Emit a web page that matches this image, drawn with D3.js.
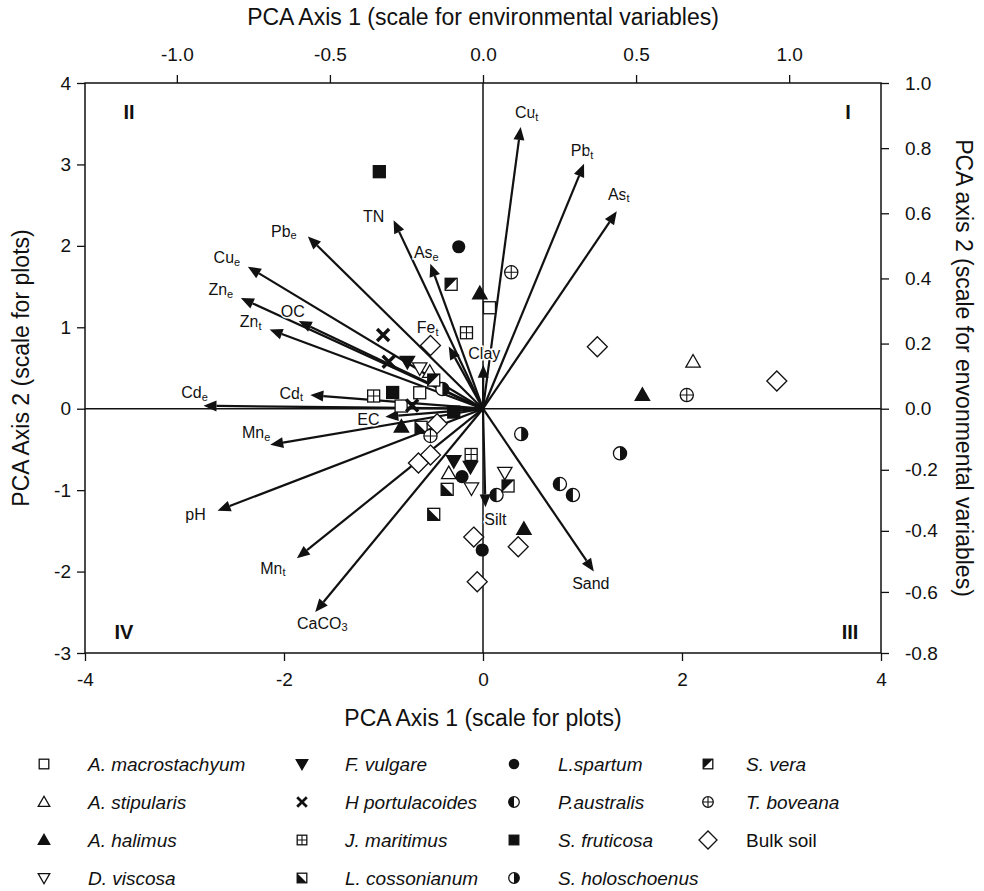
<!DOCTYPE html>
<html>
<head>
<meta charset="utf-8">
<script src="https://cdn.jsdelivr.net/npm/d3@7"></script>
<style>
  body { margin: 0; background: #fff; }
  svg text { font-family: "Liberation Sans", Arial, Helvetica, sans-serif; fill: #111; }
</style>
</head>
<body>
<svg id="chart" width="984" height="891"></svg>
<script>
// ---- data -------------------------------------------------------------
const X_TICKS = [-4, -2, 0, 2, 4];
const Y_TICKS = [-3, -2, -1, 0, 1, 2, 3, 4];
const XE_TICKS = [-1.0, -0.5, 0.0, 0.5, 1.0];
const YE_TICKS = [-0.8, -0.6, -0.4, -0.2, 0.0, 0.2, 0.4, 0.6, 0.8, 1.0];

// environmental variables (scale for environmental variables)
const envNames = ["Cu", "Pb", "As", "TN", "Pb", "Cu", "Zn", "OC", "Zn", "As", "Fe", "Clay",
                  "Cd", "Cd", "EC", "Mn", "pH", "Mn", "CaCO", "Silt", "Sand"];
const envSubs  = ["t", "t", "t", "", "e", "e", "e", "", "t", "e", "t", "",
                  "e", "t", "", "e", "", "t", "3", "", ""];
const envX = [0.123, 0.330, 0.437, -0.292, -0.572, -0.768, -0.791, -0.602, -0.697, -0.172, -0.112, 0.001,
              -0.913, -0.564, -0.319, -0.695, -0.867, -0.608, -0.548, 0.008, 0.362];
const envY = [0.865, 0.752, 0.606, 0.579, 0.529, 0.436, 0.340, 0.269, 0.243, 0.445, 0.191, 0.135,
              0.009, 0.042, -0.026, -0.118, -0.334, -0.490, -0.666, -0.323, -0.533];

// plots (scale for plots)
const speciesNames = ["A. macrostachyum", "A. stipularis", "A. halimus", "D. viscosa",
                      "F. vulgare", "H portulacoides", "J. maritimus", "L. cossonianum",
                      "L.spartum", "P.australis", "S. fruticosa", "S. holoschoenus",
                      "S. vera", "T. boveana", "Bulk soil"];
const pointSpecies = [0, 0, 0, 1, 1, 1, 2, 2, 2, 2, 3, 3, 3, 4, 4, 4, 5, 5, 5, 6, 6, 6,
                      7, 7, 7, 8, 8, 8, 9, 9, 9, 10, 10, 10, 11, 11, 11, 12, 12, 12, 13, 13, 13,
                      14, 14, 14, 14, 14, 14, 14, 14, 14];
const pointX = [0.065, -0.636, -0.823,  -0.535, 2.111, -0.344,  -0.032, 1.602, -0.820, 0.411,
                -0.636, 0.219, -0.116,  -0.760, -0.294, -0.126,  -1.004, -0.948, -0.712,
                -0.166, -1.099, -0.119,  -0.622, -0.360, -0.495,  -0.244, -0.211, -0.008,
                0.773, 0.904, 0.136,  -1.042, -0.908, -0.294,  1.377, 0.384, -0.408,
                -0.320, 0.252, -0.495,  0.284, 2.048, -0.528,
                -0.528, 1.149, 2.953, -0.461, -0.528, -0.649, -0.093, 0.354, -0.058];
const pointY = [1.240, 0.196, 0.033,  0.451, 0.577, -0.793,  1.417, 0.168, -0.221, -1.477,
                0.496, -0.786, -0.978,  0.577, -0.642, -0.712,  0.905, 0.577, 0.039,
                0.933, 0.156, -0.562,  -0.228, -0.990, -1.297,  1.989, -0.833, -1.735,
                -0.925, -1.060, -1.060,  2.911, 0.199, -0.041,  -0.548, -0.311, 0.242,
                1.528, -0.949, 0.352,  1.675, 0.168, -0.335,
                0.776, 0.761, 0.340, -0.184, -0.569, -0.667, -1.576, -1.695, -2.125];

// ---- styles / layout --------------------------------------------------
const speciesSymbol = ["squareOpen", "triUpOpen", "triUpFill", "triDownOpen",
                       "triDownFill", "cross", "squarePlus", "squareHalfLow",
                       "circleFill", "circleHalfLeft", "squareFill", "circleHalfRight",
                       "squareHalfUp", "circlePlus", "diamond"];
// label centre relative to the arrow tip, in pixels
const labelNudge = [[6, -14], [-2, -13], [2, -17], [-20, -4], [-24, -5], [-21, -9], [-20, -8],
                    [-6, -10], [-19, -8], [-4, -11], [-21, -19], [1, -11], [-9, -13], [-19, -2],
                    [-17, 3], [-14, -12], [-22, 4], [-24, 10], [7, 11], [10, 12], [-3, 12]];

const margin = {left: 85, right: 881, top: 83, bottom: 653};
const INK = "#111";
const HEAD_LEN = 13, HEAD_W = 5.5;

const svg = d3.select("#chart");

const x = d3.scaleLinear().domain([-4, 4]).range([margin.left, margin.right]);
const y = d3.scaleLinear().domain([-3, 4]).range([margin.bottom, margin.top]);
const xe = d3.scaleLinear().domain([-1.3, 1.3]).range([margin.left, margin.right]);
const ye = d3.scaleLinear().domain([-0.8, 0, 1.0]).range([margin.bottom, y(0), margin.top]);

// plain hyphen for negative numbers, as in the original figure
const hyphen = function(fmt) {
    const f = d3.format(fmt);
    return function(d) { return f(d).replace("\u2212", "-"); };
};

// ---- axes -------------------------------------------------------------
function styleAxis(g) {
    g.select(".domain").remove();
    g.selectAll(".tick line").attr("stroke", INK).attr("stroke-width", 1.3);
    g.selectAll(".tick text").attr("font-size", 19).attr("fill", INK)
        .attr("font-family", "Liberation Sans, Arial, sans-serif");
}

svg.append("g").attr("transform", "translate(0," + margin.bottom + ")")
    .call(d3.axisBottom(x).tickValues(X_TICKS).tickSize(8).tickPadding(12).tickFormat(hyphen("d")))
    .call(styleAxis);

svg.append("g").attr("transform", "translate(" + margin.left + ",0)")
    .call(d3.axisLeft(y).tickValues(Y_TICKS).tickSize(8).tickPadding(6).tickFormat(hyphen("d")))
    .call(styleAxis);

svg.append("g").attr("transform", "translate(0," + margin.top + ")")
    .call(d3.axisTop(xe).tickValues(XE_TICKS).tickSize(8).tickPadding(14).tickFormat(hyphen(".1f")))
    .call(styleAxis);

svg.append("g").attr("transform", "translate(" + margin.right + ",0)")
    .call(d3.axisRight(ye).tickValues(YE_TICKS).tickSize(8).tickPadding(16).tickFormat(hyphen(".1f")))
    .call(styleAxis);

// frame and zero lines
svg.append("rect")
    .attr("x", margin.left).attr("y", margin.top)
    .attr("width", margin.right - margin.left).attr("height", margin.bottom - margin.top)
    .attr("fill", "none").attr("stroke", INK).attr("stroke-width", 1.5);
svg.append("line")
    .attr("x1", x(0)).attr("x2", x(0)).attr("y1", margin.top).attr("y2", margin.bottom)
    .attr("stroke", INK).attr("stroke-width", 1.5);
svg.append("line")
    .attr("x1", margin.left).attr("x2", margin.right).attr("y1", y(0)).attr("y2", y(0))
    .attr("stroke", INK).attr("stroke-width", 1.5);

// axis titles
const cx = (margin.left + margin.right) / 2;
svg.append("text").attr("x", cx).attr("y", 25).attr("text-anchor", "middle")
    .attr("font-size", 23).text("PCA Axis 1 (scale for environmental variables)");
svg.append("text").attr("x", cx).attr("y", 726).attr("text-anchor", "middle")
    .attr("font-size", 23).text("PCA Axis 1 (scale for plots)");
svg.append("text").attr("transform", "translate(29,368) rotate(-90)").attr("text-anchor", "middle")
    .attr("font-size", 23).text("PCA Axis 2 (scale for plots)");
svg.append("text").attr("transform", "translate(956,368) rotate(90)").attr("text-anchor", "middle")
    .attr("font-size", 23).text("PCA axis 2 (scale for envonmental variables)");

// quadrant numerals
[["II", 129, 112], ["I", 848, 112], ["IV", 124, 632], ["III", 850, 632]].forEach(function(q) {
    svg.append("text").attr("x", q[1]).attr("y", q[2]).attr("text-anchor", "middle")
        .attr("dominant-baseline", "central").attr("font-size", 20).attr("font-weight", "bold")
        .text(q[0]);
});

// ---- environmental arrows ---------------------------------------------
const arrows = svg.append("g");
envNames.forEach(function(name, i) {
    const x0 = xe(0), y0 = ye(0);
    const x1 = xe(envX[i]), y1 = ye(envY[i]);
    const len = Math.hypot(x1 - x0, y1 - y0);
    const ux = (x1 - x0) / len, uy = (y1 - y0) / len;
    const bx = x1 - ux * HEAD_LEN, by = y1 - uy * HEAD_LEN;

    arrows.append("line")
        .attr("x1", x0).attr("y1", y0).attr("x2", bx).attr("y2", by)
        .attr("stroke", INK).attr("stroke-width", 2.2);
    arrows.append("path")
        .attr("d", "M" + x1 + "," + y1 +
                   "L" + (bx - uy * HEAD_W) + "," + (by + ux * HEAD_W) +
                   "L" + (bx + uy * HEAD_W) + "," + (by - ux * HEAD_W) + "Z")
        .attr("fill", INK);
});

// ---- plot symbols -----------------------------------------------------
function drawSymbol(g, type, k) {
    const s = 6 * k, r = 6.6 * k, t = 7.2 * k, d = 10 * k;
    const open = {fill: "#fff", stroke: INK, "stroke-width": 1.3};
    function put(el, attrs) {
        const e = g.append(el);
        Object.keys(attrs).forEach(function(a) { e.attr(a, attrs[a]); });
        return e;
    }
    const sq = function(fill) {
        return put("rect", {x: -s, y: -s, width: 2 * s, height: 2 * s,
                            fill: fill, stroke: INK, "stroke-width": 1.3});
    };
    switch (type) {
        case "squareOpen": sq("#fff"); break;
        case "squareFill": sq(INK); break;
        case "squarePlus":
            sq("#fff");
            put("path", {d: "M0," + (-s) + "V" + s + "M" + (-s) + ",0H" + s, stroke: INK, "stroke-width": 1.1});
            break;
        case "squareHalfLow":
            sq("#fff");
            put("path", {d: "M" + (-s) + "," + (-s) + "L" + (-s) + "," + s + "L" + s + "," + s + "Z", fill: INK});
            break;
        case "squareHalfUp":
            sq("#fff");
            put("path", {d: "M" + (-s) + "," + (-s) + "L" + s + "," + (-s) + "L" + (-s) + "," + s + "Z", fill: INK});
            break;
        case "triUpOpen":
        case "triUpFill":
            put("path", Object.assign({}, open, {
                d: "M0," + (-t) + "L" + t + "," + (t * 0.75) + "L" + (-t) + "," + (t * 0.75) + "Z",
                fill: type === "triUpFill" ? INK : "#fff"}));
            break;
        case "triDownOpen":
        case "triDownFill":
            put("path", Object.assign({}, open, {
                d: "M0," + t + "L" + t + "," + (-t * 0.75) + "L" + (-t) + "," + (-t * 0.75) + "Z",
                fill: type === "triDownFill" ? INK : "#fff"}));
            break;
        case "cross":
            put("path", {d: "M" + (-s) + "," + (-s) + "L" + s + "," + s + "M" + s + "," + (-s) + "L" + (-s) + "," + s,
                         stroke: INK, "stroke-width": 3.4 * k});
            break;
        case "circleFill":
            put("circle", {r: r, fill: INK});
            break;
        case "circleHalfLeft":
            put("circle", Object.assign({r: r}, open));
            put("path", {d: "M0," + (-r) + "A" + r + "," + r + " 0 0 0 0," + r + "Z", fill: INK});
            break;
        case "circleHalfRight":
            put("circle", Object.assign({r: r}, open));
            put("path", {d: "M0," + (-r) + "A" + r + "," + r + " 0 0 1 0," + r + "Z", fill: INK});
            break;
        case "circlePlus":
            put("circle", Object.assign({r: r}, open));
            put("path", {d: "M0," + (-r) + "V" + r + "M" + (-r) + ",0H" + r, stroke: INK, "stroke-width": 1.1});
            break;
        case "diamond":
            put("path", Object.assign({}, open, {d: "M0," + (-d) + "L" + d + ",0L0," + d + "L" + (-d) + ",0Z"}));
            break;
    }
}

const pts = svg.append("g");
pointX.forEach(function(px, i) {
    const g = pts.append("g").attr("transform", "translate(" + x(px) + "," + y(pointY[i]) + ")");
    drawSymbol(g, speciesSymbol[pointSpecies[i]], 1);
});

// ---- arrow labels -----------------------------------------------------
const labels = svg.append("g");
envNames.forEach(function(name, i) {
    const t = labels.append("text")
        .attr("x", xe(envX[i]) + labelNudge[i][0])
        .attr("y", ye(envY[i]) + labelNudge[i][1])
        .attr("text-anchor", "middle")
        .attr("dominant-baseline", "central")
        .attr("font-size", 16)
        .attr("stroke", "#fff").attr("stroke-width", 3).attr("paint-order", "stroke")
        .text(name);
    if (envSubs[i]) {
        t.append("tspan").attr("font-size", 11).attr("dy", 4).text(envSubs[i]);
    }
});

// ---- legend -----------------------------------------------------------
const legendRows = [764, 802, 840, 878];
const legendMarkX = [44, 302, 514, 708];
const legendTextX = [88, 345, 558, 746];
const legend = svg.append("g");
speciesNames.forEach(function(name, i) {
    const col = Math.floor(i / 4), row = i % 4;
    const g = legend.append("g")
        .attr("transform", "translate(" + legendMarkX[col] + "," + legendRows[row] + ")");
    drawSymbol(g, speciesSymbol[i], name === "Bulk soil" ? 0.9 : 0.8);
    legend.append("text")
        .attr("x", legendTextX[col]).attr("y", legendRows[row])
        .attr("dominant-baseline", "central")
        .attr("font-size", 19)
        .attr("font-style", name === "Bulk soil" ? "normal" : "italic")
        .text(name);
});
</script>
</body>
</html>
